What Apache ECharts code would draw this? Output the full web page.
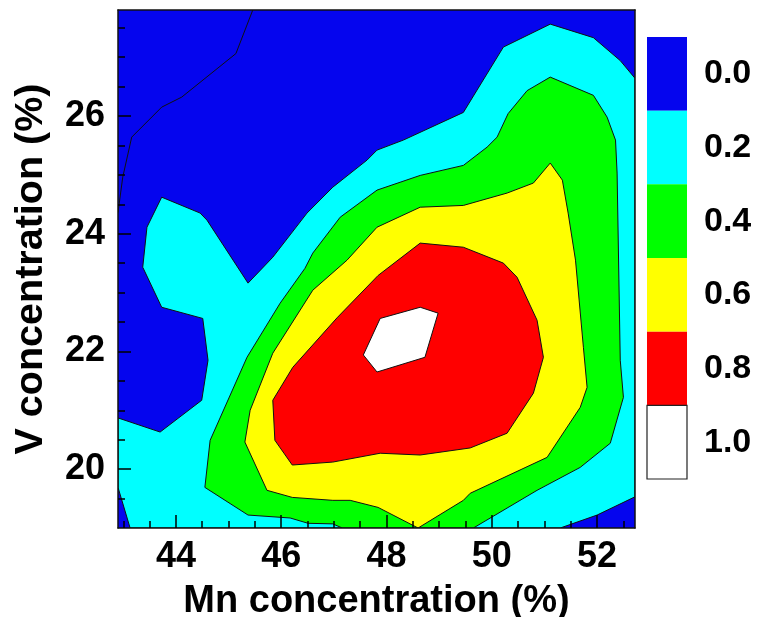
<!DOCTYPE html>
<html>
<head>
<meta charset="utf-8">
<script src="https://cdn.jsdelivr.net/npm/echarts@6/dist/echarts.min.js"></script>
<style>
  html, body { margin: 0; padding: 0; background: #fff; }
  #chart { width: 759px; height: 617px; }
</style>
</head>
<body>
<div id="chart"></div>
<script>
// Axis ranges and ticks
const mnRange = [42.9, 52.72];
const vRange = [19.0, 27.8];
const mnTicks = [44, 46, 48, 50, 52];
const vTicks = [20, 22, 24, 26];
const mnMinorTicks = [43, 43.5, 44.5, 45, 45.5, 46.5, 47, 47.5, 48.5, 49, 49.5, 50.5, 51, 51.5, 52.5];
const vMinorTicks = [19.5, 20.5, 21, 21.5, 22.5, 23, 23.5, 24.5, 25, 25.5, 26.5, 27, 27.5];

// Contour levels, their colours and labels on the colour bar
const levelBounds = [0.0, 0.2, 0.4, 0.6, 0.8, 1.0, 1.2];
const levelLabels = ['0.0', '0.2', '0.4', '0.6', '0.8', '1.0'];
const levelColors = ['#0505ee', '#00ffff', '#00ff00', '#ffff00', '#ff0000', '#ffffff'];

// Filled contour regions [Mn %, V %]: area where the value exceeds each level
const region00 = [
  [42.9, 19.0], [52.72, 19.0], [52.72, 27.8], [42.9, 27.8]
];
const region02 = [
  [42.9, 20.87], [43.70, 20.63], [44.49, 21.17], [44.61, 21.85], [44.51, 22.56],
  [43.73, 22.75], [43.37, 23.43], [43.45, 24.11], [43.73, 24.62], [44.46, 24.35],
  [44.59, 24.23], [45.37, 23.16], [45.84, 23.60], [46.49, 24.35], [46.98, 24.79],
  [47.63, 25.25], [47.82, 25.42], [48.32, 25.59], [49.46, 26.06], [49.72, 26.44],
  [50.22, 27.17], [51.11, 27.56], [51.93, 27.33], [52.44, 26.94], [52.72, 26.64],
  [52.72, 19.53], [52.00, 19.22], [51.30, 19.0], [43.13, 19.0], [42.9, 19.69]
];
const region04 = [
  [47.16, 19.0], [46.98, 19.07], [46.51, 19.08], [46.17, 19.17], [45.37, 19.22],
  [44.55, 19.69], [44.65, 20.49], [45.35, 21.90], [45.98, 22.82], [46.45, 23.41],
  [46.60, 23.67], [47.12, 24.28], [47.82, 24.74], [48.64, 24.99], [49.46, 25.16],
  [49.91, 25.47], [50.10, 25.64], [50.31, 26.04], [50.67, 26.43], [51.11, 26.66],
  [51.93, 26.35], [52.19, 25.98], [52.35, 25.59], [52.38, 25.03], [52.44, 21.85],
  [52.50, 21.22], [52.25, 20.44], [51.68, 20.03], [50.86, 19.64], [49.65, 19.0]
];
const region06 = [
  [48.60, 19.0], [47.84, 19.35], [47.31, 19.47], [46.98, 19.47], [46.21, 19.52],
  [45.73, 19.64], [45.31, 20.46], [45.41, 21.00], [45.84, 21.97], [46.60, 23.04],
  [47.25, 23.55], [47.82, 24.11], [48.64, 24.45], [49.46, 24.48], [50.29, 24.69],
  [50.79, 24.86], [51.11, 25.20], [51.34, 24.91], [51.45, 24.35], [51.59, 23.55],
  [51.74, 22.07], [51.81, 21.39], [51.68, 21.05], [51.05, 20.20], [49.59, 19.59],
  [49.46, 19.47]
];
const region08 = [
  [48.64, 23.84], [49.46, 23.77], [50.22, 23.50], [50.48, 23.26], [50.86, 22.53],
  [50.98, 21.90], [50.79, 21.29], [50.29, 20.61], [49.59, 20.36], [48.64, 20.24],
  [47.88, 20.27], [46.98, 20.12], [46.21, 20.07], [45.88, 20.49], [45.84, 21.17],
  [46.22, 21.73], [47.06, 22.57], [47.84, 23.29]
];
const region10 = [
  [47.88, 22.56], [48.64, 22.75], [48.98, 22.65], [48.73, 21.90], [47.82, 21.65],
  [47.56, 21.94]
];
// Open iso-line at level 0.0 in the upper-left corner
const isoline00 = [
  [45.46, 27.8], [45.14, 27.06], [44.11, 26.32], [43.73, 26.15], [43.16, 25.64],
  [42.99, 24.96], [42.9, 24.36]
];

const regions = [region00, region02, region04, region06, region08, region10];

const FONT = '"Liberation Sans", Arial, Helvetica, sans-serif';
const INK = '#000';
const AXIS_INK = '#111';

const chart = echarts.init(document.getElementById('chart'), null, { renderer: 'canvas' });

const frameLine = { show: true, lineStyle: { color: AXIS_INK, width: 1.5 } };
const tickStyle = { color: '#000', width: 1.5 };

// axes of the contour panel are stacked above the filled bands (z)
chart.setOption({
  animation: false,
  backgroundColor: '#fff',
  grid: [
    { left: 118, top: 10, width: 517, height: 518, outerBoundsMode: 'none', containLabel: false },
    { left: 647, top: 37, width: 40, height: 442, outerBoundsMode: 'none', containLabel: false }
  ],
  xAxis: [
    {
      gridIndex: 0, type: 'value', position: 'bottom', min: mnRange[0], max: mnRange[1], z: 10,
      name: 'Mn concentration (%)', nameLocation: 'middle', nameGap: 55,
      nameTextStyle: { fontFamily: FONT, fontWeight: 'bold', fontSize: 38, color: INK },
      axisLine: frameLine,
      axisTick: { show: true, inside: true, length: 13, customValues: mnTicks, lineStyle: tickStyle },
      axisLabel: { show: true, customValues: mnTicks, margin: 11, fontFamily: FONT, fontWeight: 'bold', fontSize: 36, color: INK },
      splitLine: { show: false }
    },
    {
      gridIndex: 0, type: 'value', position: 'bottom', min: mnRange[0], max: mnRange[1], z: 10,
      axisLine: { show: false },
      axisTick: { show: true, inside: true, length: 7, customValues: mnMinorTicks, lineStyle: tickStyle },
      axisLabel: { show: false },
      splitLine: { show: false }
    },
    {
      gridIndex: 0, type: 'value', position: 'top', min: mnRange[0], max: mnRange[1], z: 10,
      axisLine: frameLine, axisTick: { show: false }, axisLabel: { show: false }, splitLine: { show: false }
    },
    { gridIndex: 1, type: 'value', min: 0, max: 1, show: false }
  ],
  yAxis: [
    {
      gridIndex: 0, type: 'value', position: 'left', min: vRange[0], max: vRange[1], z: 10,
      name: 'V concentration (%)', nameLocation: 'middle', nameGap: 67,
      nameTextStyle: { fontFamily: FONT, fontWeight: 'bold', fontSize: 39.5, color: INK },
      axisLine: frameLine,
      axisTick: { show: true, inside: true, length: 13, customValues: vTicks, lineStyle: tickStyle },
      axisLabel: { show: true, customValues: vTicks, margin: 13, fontFamily: FONT, fontWeight: 'bold', fontSize: 36, color: INK },
      splitLine: { show: false }
    },
    {
      gridIndex: 0, type: 'value', position: 'left', min: vRange[0], max: vRange[1], z: 10,
      axisLine: { show: false },
      axisTick: { show: true, inside: true, length: 7, customValues: vMinorTicks, lineStyle: tickStyle },
      axisLabel: { show: false },
      splitLine: { show: false }
    },
    {
      gridIndex: 0, type: 'value', position: 'right', min: vRange[0], max: vRange[1], z: 10,
      axisLine: frameLine, axisTick: { show: false }, axisLabel: { show: false }, splitLine: { show: false }
    },
    { gridIndex: 1, type: 'value', min: levelBounds[0], max: levelBounds[levelBounds.length - 1], inverse: true, show: false }
  ],
  series: [
    {
      // filled contour bands, lowest level first
      type: 'custom',
      xAxisIndex: 0, yAxisIndex: 0,
      clip: true,
      silent: true,
      data: regions.map((_, i) => [i]),
      renderItem: function (params, api) {
        const i = params.dataIndex;
        const pts = regions[i].map(p => api.coord(p));
        return {
          type: 'polygon',
          shape: { points: pts },
          style: { fill: levelColors[i], stroke: i === 0 ? null : AXIS_INK, lineWidth: 1 }
        };
      }
    },
    {
      // iso-line inside the lowest band
      type: 'custom',
      xAxisIndex: 0, yAxisIndex: 0,
      clip: true,
      silent: true,
      data: [[0]],
      renderItem: function (params, api) {
        return {
          type: 'polyline',
          shape: { points: isoline00.map(p => api.coord(p)) },
          style: { fill: null, stroke: AXIS_INK, lineWidth: 1 }
        };
      }
    },
    {
      // colour bar with level labels
      type: 'custom',
      xAxisIndex: 3, yAxisIndex: 3,
      silent: true,
      data: levelLabels.map((_, i) => [i]),
      renderItem: function (params, api) {
        const i = params.dataIndex;
        const p0 = api.coord([0, levelBounds[i]]);
        const p1 = api.coord([1, levelBounds[i + 1]]);
        const x = Math.min(p0[0], p1[0]);
        const y = Math.min(p0[1], p1[1]);
        const w = Math.abs(p1[0] - p0[0]);
        const h = Math.abs(p1[1] - p0[1]);
        const isWhite = levelColors[i] === '#ffffff';
        return {
          type: 'group',
          children: [
            {
              type: 'rect',
              shape: { x: x, y: y, width: w, height: h },
              style: { fill: levelColors[i], stroke: isWhite ? '#222' : null, lineWidth: 1.2 }
            },
            {
              type: 'text',
              style: {
                x: x + w + 17, y: y + h / 2,
                text: levelLabels[i],
                fill: INK,
                font: 'bold 34px ' + FONT,
                textAlign: 'left', textVerticalAlign: 'middle'
              }
            }
          ]
        };
      }
    }
  ]
});
</script>
</body>
</html>
